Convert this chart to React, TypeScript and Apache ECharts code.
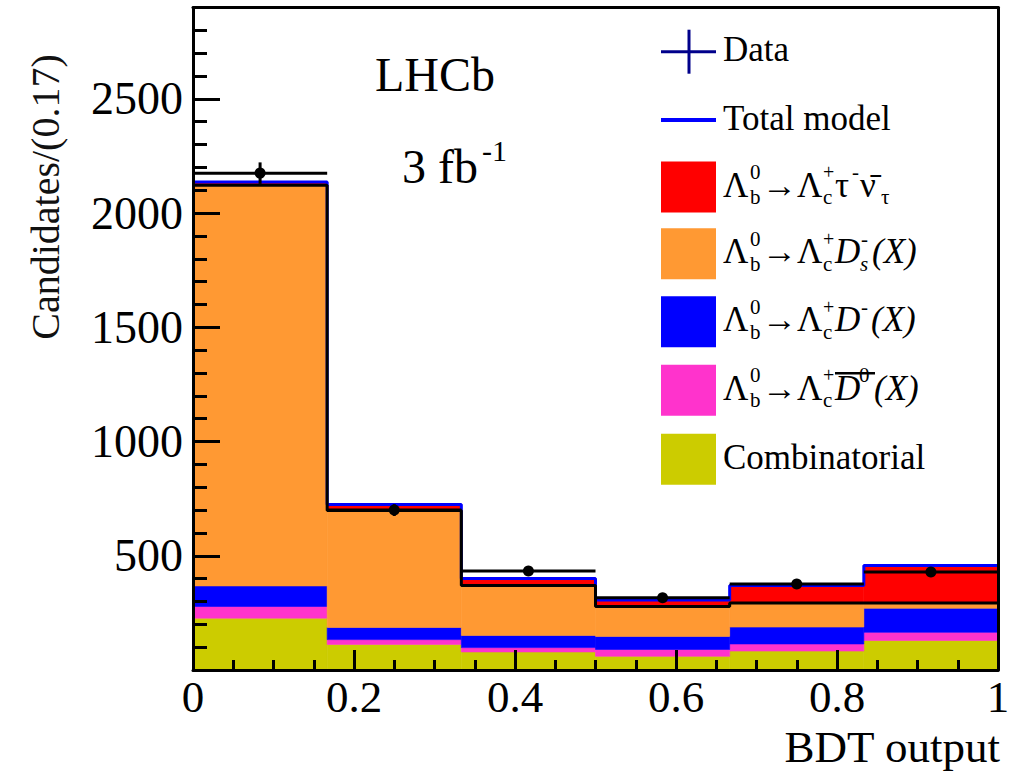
import React, { useEffect, useRef } from 'react';
import * as echarts from 'echarts';

// ---- data ----
const binEdges = [0, 0.16667, 0.33333, 0.5, 0.66667, 0.83333, 1];
const combinatorial = [227, 112, 79, 60, 83, 129];
const dbar0X = [51, 21, 19, 30, 31, 36];
const dminusX = [90, 53, 53, 57, 74, 105];
const dsX = [1754, 512, 219, 131, 105, 23];
const tauNu = [14, 26, 30, 28, 77, 164];
const dataCounts = [2175, 700, 433, 316, 376, 429];
const dataErrors = [47, 26, 21, 18, 19, 21];
const xTickLabels = ['0', '0.2', '0.4', '0.6', '0.8', '1'];
const yTickLabels = ['500', '1000', '1500', '2000', '2500'];

const FONT = 'Liberation Serif';

type Piece = [string, number, number, number, boolean?];

const prefix: Piece[] = [
  ['Λ', 0, 0, 35],
  ['0', 27, -13, 21],
  ['b', 27, 12, 21],
  ['→', 39, 0, 35],
  ['Λ', 74, 0, 35],
  ['+', 100, -13, 20],
  ['c', 100, 12, 21],
];

const legendEntries = [
  { kind: 'data', label: [['Data', 0, 0, 35]] as Piece[], color: '#00008b' },
  { kind: 'line', label: [['Total model', 0, 0, 35]] as Piece[], color: '#0000ff' },
  {
    kind: 'box', color: '#ff0000',
    label: [...prefix, ['τ', 112, 0, 35], ['-', 129, -13, 21], ['ν̄', 137, 0, 35], ['τ', 158, 12, 21]] as Piece[],
  },
  {
    kind: 'box', color: '#ff9933',
    label: [...prefix, ['D', 112, 0, 35, true], ['-', 138, -13, 21], ['s', 137, 12, 21, true], ['(X)', 149, 0, 35, true]] as Piece[],
  },
  {
    kind: 'box', color: '#0000ff',
    label: [...prefix, ['D', 112, 0, 35, true], ['-', 138, -13, 21], ['(X)', 148, 0, 35, true]] as Piece[],
  },
  {
    kind: 'box', color: '#ff33cc', overline: true,
    label: [...prefix, ['D', 112, 0, 35, true], ['0', 136, -13, 21], ['(X)', 151, 0, 35, true]] as Piece[],
  },
  { kind: 'box', color: '#cccc00', label: [['Combinatorial', 0, 0, 35]] as Piece[] },
];

const components = [
  { name: 'Combinatorial', values: combinatorial, color: '#cccc00' },
  { name: 'D0bar', values: dbar0X, color: '#ff33cc' },
  { name: 'Dminus', values: dminusX, color: '#0000ff' },
  { name: 'Ds', values: dsX, color: '#ff9933' },
  { name: 'tau', values: tauNu, color: '#ff0000' },
];

function buildOption() {
  const nb = binEdges.length - 1;
  const cum: number[][] = [];
  let prev = new Array(nb).fill(0);
  components.forEach((c) => {
    const next = prev.map((p, i) => p + c.values[i]);
    cum.push(next);
    prev = next;
  });

  const fillSeries = components.map((c, k) => ({
    type: 'custom',
    name: c.name,
    xAxisIndex: 0,
    yAxisIndex: 0,
    z: 2,
    data: binEdges.slice(0, nb).map((e, i) => [e, binEdges[i + 1], k === 0 ? 0 : cum[k - 1][i], cum[k][i]]),
    encode: { x: [0, 1], y: [2, 3] },
    renderItem: (_p: any, api: any) => {
      const a = api.coord([api.value(0), api.value(3)]);
      const b = api.coord([api.value(1), api.value(2)]);
      return {
        type: 'rect',
        shape: { x: a[0], y: a[1], width: b[0] - a[0], height: b[1] - a[1] },
        style: { fill: c.color, stroke: c.color, lineWidth: 0.6 },
      };
    },
  }));

  const stepPts = (vals: number[]) => {
    const pts = binEdges.slice(0, nb).map((e, i) => [e, vals[i]]);
    pts.push([binEdges[nb], vals[nb - 1]]);
    return pts;
  };

  const totalLine = {
    type: 'line', step: 'end', symbol: 'none', showSymbol: false, z: 3,
    data: stepPts(cum[4]),
    lineStyle: { color: '#0000ff', width: 3 },
  };
  const dsLine = {
    type: 'line', step: 'end', symbol: 'none', showSymbol: false, z: 4,
    data: stepPts(cum[3]),
    lineStyle: { color: '#000000', width: 3 },
  };

  const dataSeries = {
    type: 'custom', z: 5,
    data: dataCounts.map((v, i) => [binEdges[i], binEdges[i + 1], v, dataErrors[i]]),
    encode: { x: [0, 1], y: [2] },
    renderItem: (_p: any, api: any) => {
      const x0 = api.value(0), x1 = api.value(1), v = api.value(2), e = api.value(3);
      const l = api.coord([x0, v]);
      const r = api.coord([x1, v]);
      const xc = (l[0] + r[0]) / 2;
      const t = api.coord([x0, v + e]);
      const b = api.coord([x0, v - e]);
      return {
        type: 'group',
        children: [
          { type: 'line', shape: { x1: l[0], y1: l[1], x2: r[0], y2: r[1] }, style: { stroke: '#000', lineWidth: 3 } },
          { type: 'line', shape: { x1: xc, y1: t[1], x2: xc, y2: b[1] }, style: { stroke: '#000', lineWidth: 3 } },
          { type: 'circle', shape: { cx: xc, cy: l[1], r: 5.5 }, style: { fill: '#000' } },
        ],
      };
    },
  };

  // legend graphics
  const graphics: any[] = [];
  const legendX = 661, legendW = 55, textX = 723;
  const centers = [51.7, 120, 187, 253.7, 321.8, 390.3, 459.2];
  legendEntries.forEach((en, i) => {
    const cy = centers[i];
    if (en.kind === 'box') {
      graphics.push({ type: 'rect', shape: { x: legendX, y: cy - 25.5, width: legendW, height: 51 }, style: { fill: en.color } });
    } else if (en.kind === 'line') {
      graphics.push({ type: 'line', shape: { x1: legendX, y1: cy, x2: legendX + legendW, y2: cy }, style: { stroke: en.color, lineWidth: 4 } });
    } else {
      graphics.push({ type: 'line', shape: { x1: legendX, y1: cy, x2: legendX + legendW, y2: cy }, style: { stroke: en.color, lineWidth: 3 } });
      graphics.push({ type: 'line', shape: { x1: legendX + 28, y1: cy - 22, x2: legendX + 28, y2: cy + 22 }, style: { stroke: en.color, lineWidth: 3 } });
    }
    en.label.forEach(([t, dx, dy, size, italic]) => {
      graphics.push({
        type: 'text', x: textX + dx, y: cy - 2 + dy,
        style: {
          text: t, fontFamily: FONT, fontSize: size, fontStyle: italic ? 'italic' : 'normal',
          fill: '#000', align: 'left', verticalAlign: 'middle', textAlign: 'left', textVerticalAlign: 'middle',
        },
      });
    });
    if ((en as any).overline) {
      graphics.push({ type: 'line', shape: { x1: textX + 112, y1: cy - 17, x2: textX + 152, y2: cy - 17 }, style: { stroke: '#000', lineWidth: 2.5 } });
    }
  });

  const txt = (text: string, x: number, y: number, size: number, extra: any = {}) => ({
    type: 'text', x, y,
    style: {
      text, fontFamily: FONT, fontSize: size, fill: '#000',
      align: extra.align || 'left', verticalAlign: 'middle', textAlign: extra.align || 'left', textVerticalAlign: 'middle',
    },
  });

  graphics.push(txt('LHCb', 375, 74, 48));
  graphics.push(txt('3 fb', 402, 166, 48));
  graphics.push(txt('-1', 482, 150, 30));
  graphics.push(txt('BDT output', 1000, 746.5, 45, { align: 'right' }));
  graphics.push({
    type: 'text', x: 45, y: 197, rotation: Math.PI / 2,
    style: {
      text: 'Candidates/(0.17)', fontFamily: FONT, fontSize: 40, fill: '#111',
      align: 'center', verticalAlign: 'middle', textAlign: 'center', textVerticalAlign: 'middle',
    },
  });
  graphics.forEach((g) => { g.z = 100; });

  const tickStyle = { color: '#000', width: 3 };
  const isMult = (v: number, step: number) => Math.abs(v / step - Math.round(v / step)) < 1e-6;

  return {
    animation: false,
    backgroundColor: '#ffffff',
    grid: { left: 193, right: 27, top: 7.5, bottom: 102, containLabel: false, outerBoundsMode: 'none' },
    xAxis: [
      {
        type: 'value', min: 0, max: 1, interval: 0.2, position: 'bottom', z: 10,
        axisLine: { show: true, onZero: false, lineStyle: tickStyle },
        axisTick: { show: true, inside: true, length: 20, lineStyle: tickStyle },
        minorTick: { show: true, splitNumber: 4, length: 10, lineStyle: tickStyle },
        axisLabel: {
          show: true, margin: 4, fontSize: 45, fontFamily: FONT, color: '#000',
          formatter: (v: number) => xTickLabels[Math.round(v / 0.2)] ?? '',
        },
        splitLine: { show: false },
      },
      {
        type: 'value', min: 0, max: 1, position: 'top', z: 10,
        axisLine: { show: true, onZero: false, lineStyle: tickStyle },
        axisTick: { show: false }, axisLabel: { show: false }, splitLine: { show: false },
      },
    ],
    yAxis: [
      {
        type: 'value', min: 0, max: 2900, interval: 100, position: 'left', z: 10,
        axisLine: { show: true, onZero: false, lineStyle: tickStyle },
        axisTick: { show: true, inside: true, length: 14, lineStyle: tickStyle },
        axisLabel: {
          show: true, margin: 10, fontSize: 46, fontFamily: FONT, color: '#000',
          formatter: (v: number) => (v > 0 && isMult(v, 500) ? yTickLabels[Math.round(v / 500) - 1] ?? '' : ''),
        },
        splitLine: { show: false },
      },
      {
        type: 'value', min: 0, max: 2900, interval: 500, position: 'left', z: 10,
        axisLine: { show: false, onZero: false },
        axisTick: { show: true, inside: true, length: 27, lineStyle: tickStyle },
        axisLabel: { show: false }, splitLine: { show: false },
      },
      {
        type: 'value', min: 0, max: 2900, position: 'right', z: 10,
        axisLine: { show: true, onZero: false, lineStyle: tickStyle },
        axisTick: { show: false }, axisLabel: { show: false }, splitLine: { show: false },
      },
    ],
    series: [...fillSeries, totalLine, dsLine, dataSeries],
    graphic: graphics,
  };
}

export default function App() {
  const ref = useRef<HTMLDivElement>(null);
  useEffect(() => {
    if (!ref.current) return;
    const chart = echarts.init(ref.current, undefined, { renderer: 'svg' });
    chart.setOption(buildOption() as any);
    return () => chart.dispose();
  }, []);
  return (
    <div
      ref={ref}
      style={{ position: 'absolute', left: 0, top: 0, width: 1025, height: 772, background: '#fff' }}
    />
  );
}
